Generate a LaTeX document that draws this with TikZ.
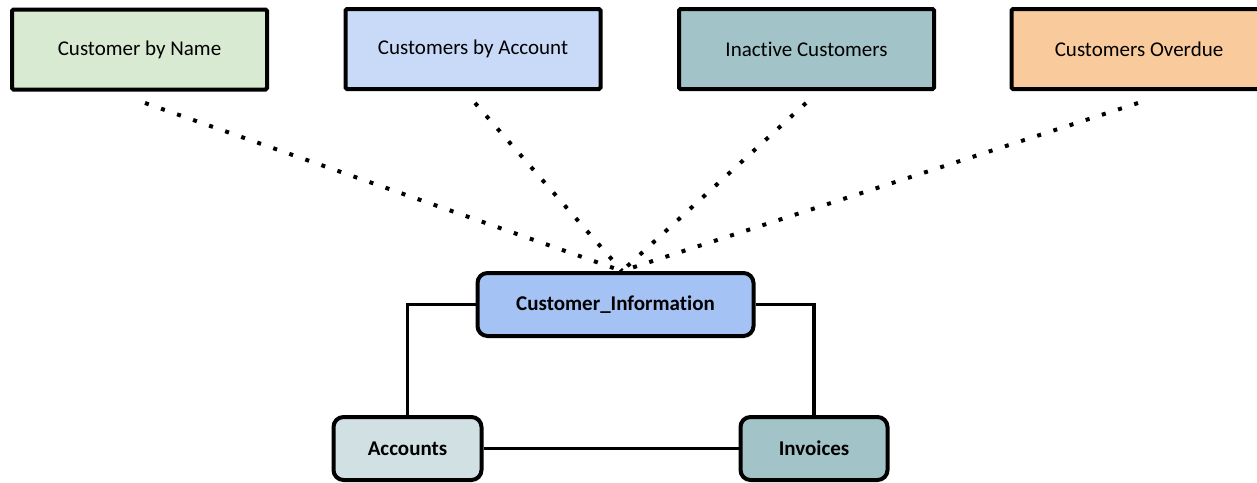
\documentclass[tikz,border=0pt]{standalone}
\usepackage{fontspec}
\setmainfont{Carlito}[RawFeature={-liga;-clig;-calt;-dlig}]
\usetikzlibrary{calc}
\definecolor{viewgreen}{HTML}{D9EAD3}
\definecolor{viewblue}{HTML}{C9DAF8}
\definecolor{viewteal}{HTML}{A2C4C9}
\definecolor{vieworange}{HTML}{F9CB9C}
\definecolor{tblblue}{HTML}{A4C2F4}
\definecolor{tblgrey}{HTML}{D0E0E3}
\definecolor{tblteal}{HTML}{A2C4C9}
% keep "t" and "i" as separate glyphs
\newcommand{\tisep}{t\kern0pt i}
\tikzset{
  viewbox/.style={draw=black, line width=4pt, rounded corners=1.5pt,
    minimum width=255pt, minimum height=80pt, inner sep=0pt,
    font=\fontsize{21}{25}\selectfont},
  tablebox/.style={draw=black, line width=4pt, rounded corners=10pt,
    minimum height=63pt, inner sep=0pt,
    font=\fontsize{21}{25}\selectfont\bfseries},
  viewlink/.style={line width=4pt, dash pattern=on 4pt off 13pt},
  tablelink/.style={line width=3.5pt},
}
\begin{document}
\begin{tikzpicture}[x=1pt,y=-1pt]
\useasboundingbox (0,0) rectangle (1257,482);
\clip (0,0) rectangle (1257,482);
\fill[white] (0,0) rectangle (1257,482);

% views
\node[viewbox, fill=viewgreen]  (byname)    at (139.5,49.5) {Customer by Name};
\node[viewbox, fill=viewblue]   (byaccount) at (473,49)     {Customers by Account};
\node[viewbox, fill=viewteal]   (inactive)  at (806.5,49)   {Inac\tisep ve Customers};
\node[viewbox, fill=vieworange] (overdue)   at (1139,49)    {Customers Overdue};

% tables
\node[tablebox, fill=tblblue, minimum width=276pt] (info)     at (615.5,304.5) {Customer\_Informa\tisep on};
\node[tablebox, fill=tblgrey, minimum width=148pt] (accounts) at (407.5,448.5) {Accounts};
\node[tablebox, fill=tblteal, minimum width=147pt] (invoices) at (814,448.5)   {Invoices};

% dotted view-to-table links
\coordinate (hub) at (622,271);
\coordinate (s1) at (145,103);
\coordinate (s2) at (475,103);
\coordinate (s3) at (806,103);
\coordinate (s4) at (1138,103);
\foreach \s in {s1,s2,s3,s4}
  \draw[viewlink] (\s) -- (hub);

% table relations
\draw[tablelink] (info.west) -| (accounts.north);
\draw[tablelink] (info.east) -| (invoices.north);
\draw[tablelink] (accounts.east) -- (invoices.west);
\end{tikzpicture}
\end{document}
